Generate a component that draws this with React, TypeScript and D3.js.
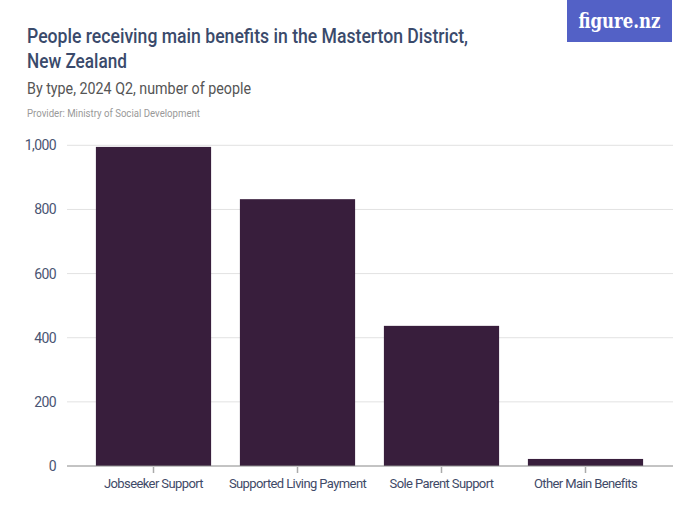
import React from "react";
import * as d3 from "d3";

const categories = ["Jobseeker Support", "Supported Living Payment", "Sole Parent Support", "Other Main Benefits"];
const values = [995, 832, 437, 22];
const yTicks = [0, 200, 400, 600, 800, 1000];

const W = 700;
const H = 525;
const FONT = "Roboto, 'Liberation Sans', sans-serif";

export default function App() {
  const x = d3.scaleBand<string>().domain(categories).range([81.5, 657.5]).paddingInner(0.2).paddingOuter(0.1);
  const y = d3.scaleLinear().domain([0, 1000]).range([466, 145.3]);
  const gridX0 = 67;
  const gridX1 = 673;
  const fmt = d3.format(",");
  return (
    <svg width={W} height={H} style={{ position: "absolute", left: 0, top: 0, background: "#fff" }} fontFamily={FONT}>
      <rect x={0} y={0} width={W} height={H} fill="#fff" />
      {/* logo */}
      <rect x={567} y={0} width={105} height={42} fill="#5361c6" />
      <text x={619.5} y={28} textAnchor="middle" fill="#fff" fontFamily="'DejaVu Serif', 'Liberation Serif', serif" fontWeight="bold" fontSize={21} textLength={82} lengthAdjust="spacingAndGlyphs">figure.nz</text>
      {/* titles */}
      <text x={27} y={43} fill="#3a4a6b" fontSize={21} fontWeight={500} textLength={441} lengthAdjust="spacingAndGlyphs">People receiving main benefits in the Masterton District,</text>
      <text x={27} y={68} fill="#3a4a6b" fontSize={21} fontWeight={500} textLength={100} lengthAdjust="spacingAndGlyphs">New Zealand</text>
      <text x={27} y={94} fill="#555" fontSize={17} textLength={224} lengthAdjust="spacingAndGlyphs">By type, 2024 Q2, number of people</text>
      <text x={27} y={117} fill="#999" fontSize={11} textLength={173} lengthAdjust="spacingAndGlyphs">Provider: Ministry of Social Development</text>
      {/* grid */}
      {yTicks.map((t) => (
        <g key={t}>
          {t !== 0 && <line x1={gridX0} x2={gridX1} y1={y(t)} y2={y(t)} stroke="#e2e2e2" strokeWidth={1} />}
          <text x={56} y={y(t) + 5} textAnchor="end" fill="#4a5573" fontSize={14} letterSpacing={-0.6}>{fmt(t)}</text>
        </g>
      ))}
      {/* bars */}
      {categories.map((c, i) => (
        <rect key={c} x={x(c)} y={y(values[i])} width={x.bandwidth()} height={y(0) - y(values[i])} fill="#381e3c" />
      ))}
      {/* axis */}
      <line x1={gridX0} x2={gridX1} y1={y(0)} y2={y(0)} stroke="#888" strokeWidth={1} />
      {categories.map((c) => (
        <g key={c}>
          <line x1={(x(c) as number) + x.bandwidth() / 2} x2={(x(c) as number) + x.bandwidth() / 2} y1={y(0) + 1} y2={y(0) + 7} stroke="#aaa" strokeWidth={1.5} />
          <text x={(x(c) as number) + x.bandwidth() / 2} y={488} textAnchor="middle" fill="#3f4a68" fontSize={13} letterSpacing={-0.6}>{c}</text>
        </g>
      ))}
    </svg>
  );
}
